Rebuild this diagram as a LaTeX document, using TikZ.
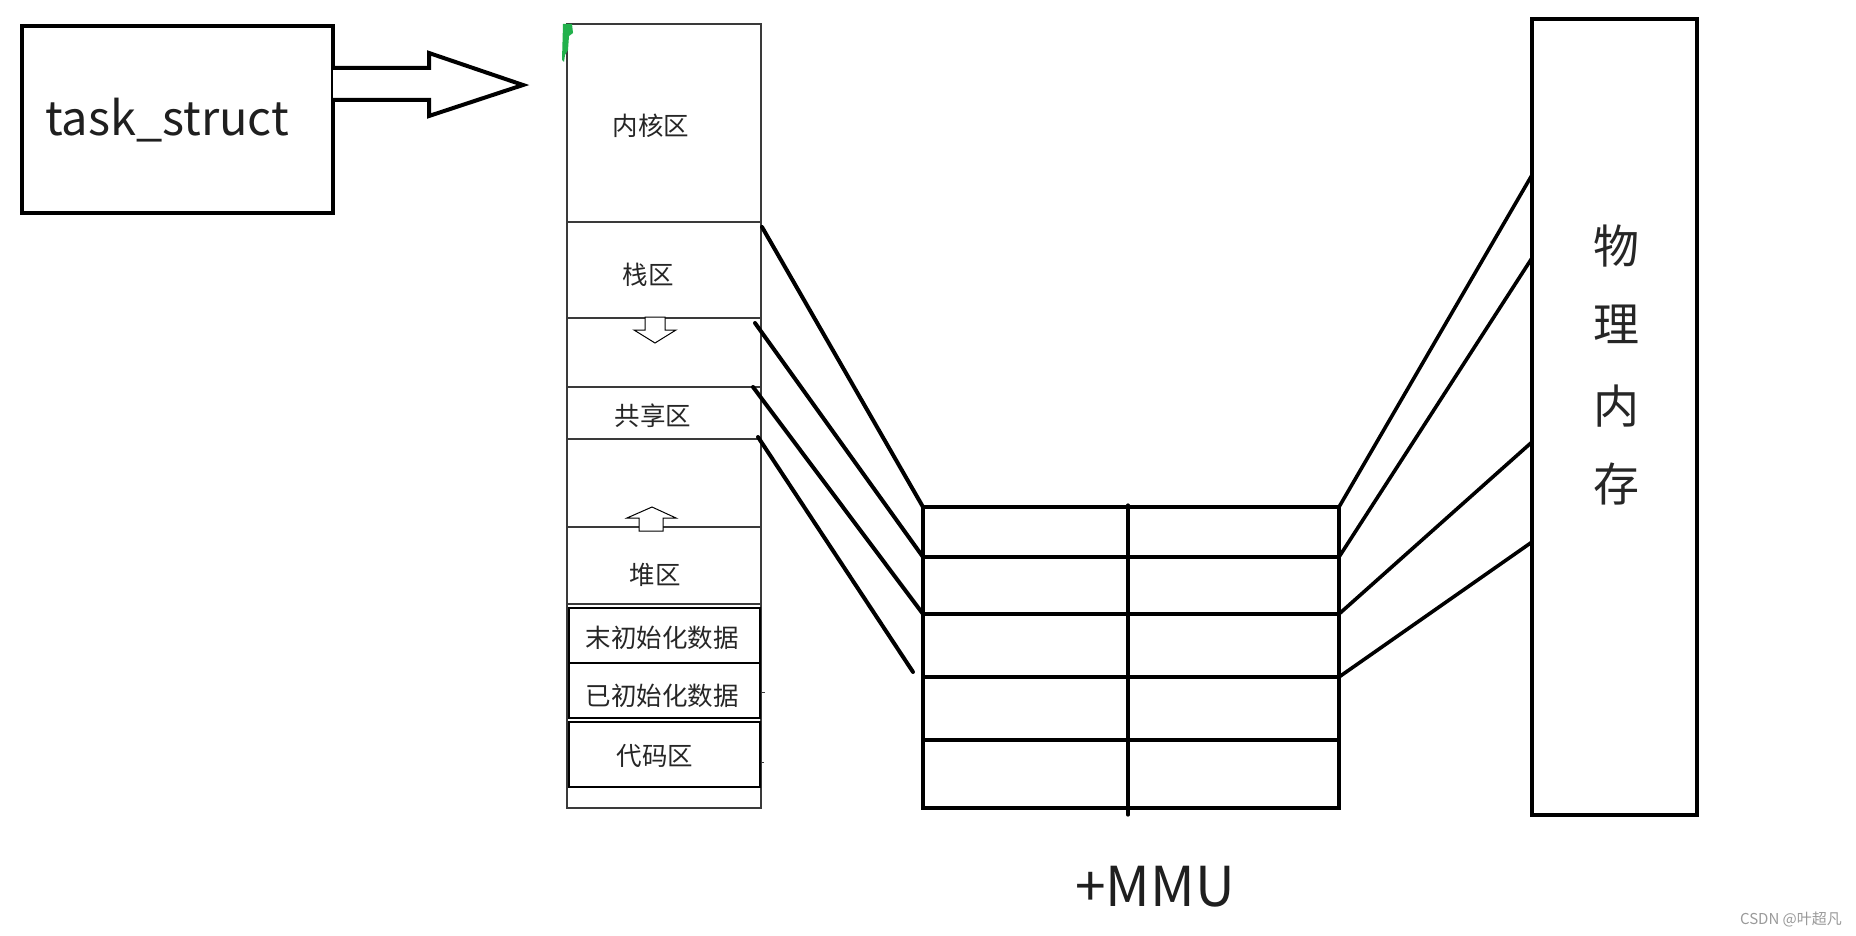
\documentclass[tikz,border=0pt]{standalone}
\usepackage{fontspec}
\setmainfont{Noto Sans CJK SC}
\usetikzlibrary{calc}
\definecolor{mspgreen}{HTML}{22B14C}
\definecolor{segline}{HTML}{3A3A3A}
\definecolor{wmgray}{HTML}{9A9A9A}
\begin{document}
\begin{tikzpicture}[x=1pt,y=-1pt,
  thickbox/.style={draw=black, line width=4pt, inner sep=0pt, outer sep=0pt},
  seg/.style={draw=segline, line width=1.6pt, inner sep=0pt, outer sep=0pt, minimum width=194pt},
  inset/.style={draw=black, line width=2.6pt, inner sep=0pt, outer sep=0pt, minimum width=191pt},
  row/.style={draw=black, line width=4pt, inner sep=0pt, outer sep=0pt, minimum width=416pt},
  conn/.style={line width=4pt, line cap=round},
  rconn/.style={line width=3.6pt, line cap=round},
  lbl/.style={font=\fontsize{25.5}{25.5}\selectfont, text=black!85, inner sep=0pt},
  big/.style={font=\fontsize{46}{46}\selectfont, text=black!85, inner sep=0pt},
  hollow/.style={draw=black, fill=white, line width=1pt, line join=miter},
]
\useasboundingbox (0,0) rectangle (1856,936);
\fill[white] (0,0) rectangle (1856,936);

% task_struct box and hollow arrow
\node[thickbox, minimum width=311pt, minimum height=187pt] (task) at (177.5,119.5) {};
\node[font=\fontsize{47}{47}\selectfont, text=black!88, inner sep=0pt] (tasklbl) at (167,120) {task\_struct};
\draw[line width=4pt, line join=miter, fill=white]
  (333,68) -- (429,68) -- (429,53) -- (523,85) -- (429,116) -- (429,100) -- (333,100);

% memory column
\node[seg, minimum height=784pt] (col) at (664,416) {};
\node[seg, minimum height=198pt] (kern) at (664,123) {};
\node[seg, minimum height=96pt] (stack) at (664,270) {};
\node[seg, minimum height=69pt] (gapa) at (664,352.5) {};
\node[seg, minimum height=52pt, line width=2pt] (shared) at (664,413) {};
\node[seg, minimum height=88pt] (gapb) at (664,483) {};
\node[seg, minimum height=77pt, line width=2pt] (heap) at (664,565.5) {};
\node[inset, minimum height=55pt] (bss) at (664.5,635.5) {};
\node[inset, minimum height=55pt] (data) at (664.5,690.5) {};
\node[inset, minimum height=65pt] (code) at (664.5,754.5) {};

\node[lbl] (lkern) at (651,126) {内核区};
\node[lbl] (lstack) at (648,275) {栈区};
\node[lbl] (lshared) at (653,416) {共享区};
\node[lbl] (lheap) at (655,575) {堆区};
\node[lbl] (lbss) at (662,638) {末初始化数据};
\node[lbl] (ldata) at (662,696) {已初始化数据};
\node[lbl] (lcode) at (655,756) {代码区};

% small hollow arrows
\draw[hollow] (645,317) -- (665,317) -- (665,330) -- (676,330) -- (655,343) -- (634,330) -- (645,330) -- cycle;
\draw[hollow] (639,531) -- (663,531) -- (663,518) -- (676,518) -- (652,507) -- (627,518) -- (639,518) -- cycle;

% tiny marks
\draw[segline, line width=1pt] (761,692) -- (765,692);
\draw[segline, line width=1pt] (762,762) -- (764,762);

% green mark
\fill[mspgreen] (563,24) -- (572,24) -- (573,33) -- (569,36) -- (568,50) -- (565,55) -- (564,62) -- (562,60) -- cycle;

% MMU table
\node[row, minimum height=50pt] (r1) at (1131,532) {};
\node[row, minimum height=57pt] (r2) at (1131,585.5) {};
\node[row, minimum height=63pt] (r3) at (1131,645.5) {};
\node[row, minimum height=63pt] (r4) at (1131,708.5) {};
\node[row, minimum height=68pt] (r5) at (1131,774) {};
\coordinate (mtop) at (1128,505);
\coordinate (mbot) at (1128,815);
\draw[line width=3.2pt, line cap=round] (mtop) -- (mbot);
\node[font=\fontsize{55}{55}\selectfont, text=black!88, inner sep=0pt] (mmu) at (1155,887) {+MMU};

% left connectors
\coordinate (l1) at (762,227);
\coordinate (l2) at (755,323);
\coordinate (l3) at (753,387);
\coordinate (l4) at (758,437);
\coordinate (l4e) at (913,672);
\draw[conn] (l1) -- (r1.north west);
\draw[conn] (l2) -- (r2.north west);
\draw[conn] (l3) -- (r3.north west);
\draw[conn] (l4) -- (l4e);

% physical memory
\node[thickbox, minimum width=165pt, minimum height=796pt] (phys) at (1614.5,417) {};
\node[big] (c1) at (1616,246) {物};
\node[big] (c2) at (1616,324) {理};
\node[big] (c3) at (1616,406) {内};
\node[big] (c4) at (1616,484) {存};

% right connectors
\coordinate (p1) at (1532,175);
\coordinate (p2) at (1532,258);
\coordinate (p3) at (1532,442);
\coordinate (p4) at (1532,542);
\draw[rconn] (r1.north east) -- (p1);
\draw[rconn] (r2.north east) -- (p2);
\draw[rconn] (r3.north east) -- (p3);
\draw[rconn] (r4.north east) -- (p4);

% watermark
\node[font=\fontsize{15}{15}\selectfont, text=wmgray, inner sep=0pt] (wm) at (1791,919) {CSDN @叶超凡};
\end{tikzpicture}
\end{document}
